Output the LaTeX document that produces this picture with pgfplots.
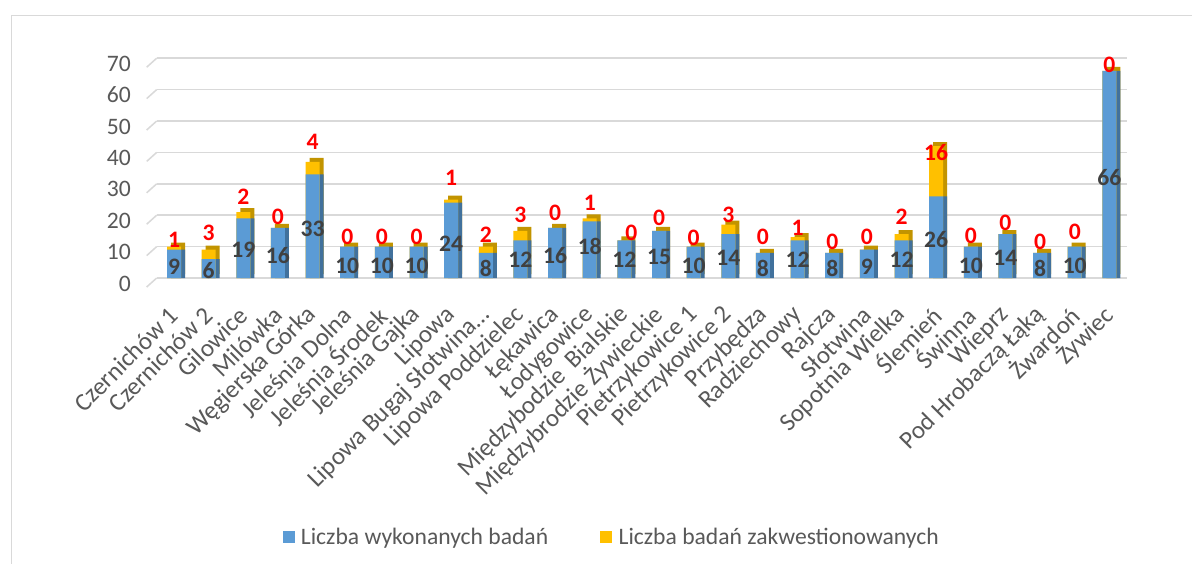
\documentclass[border=0pt]{standalone}
\usepackage{fontspec}
\setmainfont{Carlito}
\usepackage{pgfplots}
\usepackage{pgfplotstable}
\pgfplotsset{compat=1.18}
\definecolor{blueC}{HTML}{5B9BD5}
\definecolor{blueD}{HTML}{41719C}
\definecolor{yelC}{HTML}{FFC000}
\definecolor{yelD}{HTML}{C29400}
\definecolor{gridc}{HTML}{D9D9D9}
\definecolor{txt}{HTML}{595959}
\definecolor{dlab}{HTML}{404040}
\newcommand\fs{\fontsize{23.6pt}{28pt}\selectfont}
\newcommand\fx{\fontsize{25pt}{30pt}\selectfont}

\pgfplotstableread{
x blue yel tot dy rx ry
0 9 1 10 3.6 0 12.1
1 6 3 9 2.5 1 14.3
2 19 2 21 9.1 2 25.8
3 16 0 16 7.3 3 19.4
4 33 4 37 15.8 4 43.3
5 10 0 10 3.8 5 13.1
6 10 0 10 3.8 6 13.1
7 10 0 10 3.8 7 13.1
8 24 1 25 10.8 8 31.8
9 8 2 10 3.1 9 13.7
10 12 3 15 5.7 10 20.0
11 16 0 16 7.3 11 20.7
12 18 1 19 10.0 12 23.9
13 12 0 12 5.7 13.2 14.3
14 15 0 15 6.8 14 19.1
15 10 0 10 3.8 15 12.7
16 14 3 17 6.3 16 20.0
17 8 0 8 3.1 17 13.1
18 12 1 13 5.7 18 15.9
19 8 0 8 3.1 19 11.5
20 9 0 9 3.6 20 13.1
21 12 2 14 5.7 21 19.4
22 26 16 42 12.4 22 39.8
23 10 0 10 3.8 23 13.4
24 14 0 14 6.3 24 17.5
25 8 0 8 3.1 25 11.5
26 10 0 10 3.8 26 14.6
27 66 0 66 31.9 27 67.8
}\data

\begin{document}
\begin{tikzpicture}
\useasboundingbox (0,0) rectangle (1192pt,563pt);
\fill[white] (0,0) rectangle (1192pt,563pt);
\draw[gridc, line width=1.2pt] (11.7pt,-10pt) -- (11.7pt,547.3pt) -- (1210pt,547.3pt);
\begin{axis}[
  at={(156.7pt,285pt)}, anchor=south west,
  scale only axis, width=970pt, height=219.8pt,
  xmin=-0.5, xmax=27.5, ymin=0, ymax=70,
  axis line style={draw=none},
  major tick length=0pt,
  ytick={0,10,...,70},
  ymajorgrids, grid style={gridc, line width=1.5pt},
  xtick={0,...,27},
  xticklabels={Czernichów 1,Czernichów 2,Gilowice,Milówka,Węgierska Górka,Jeleśnia Dolna,Jeleśnia Środek,Jeleśnia Gajka,Lipowa,Lipowa Bugaj Słotwina…,Lipowa Poddzielec,Łękawica,Łodygowice,Międzybodzie\ \ Bialskie,Międzybrodzie Żywieckie,Pietrzykowice 1,Pietrzykowice 2,Przybędza,Radziechowy,Rajcza,Słotwina,Sopotnia Wielka,Ślemień,Świnna,Wieprz,Pod Hrobaczą Łąką,Żwardoń,Żywiec},
  xticklabel style={font=\fx, text=txt, inner sep=0pt, yshift=-33pt, xshift=0pt, rotate=45, anchor=east},
  yticklabel style={font=\fs, text=txt, inner sep=0pt, anchor=east, xshift=-25.7pt, yshift=-5.5pt},
  /pgf/number format/assume math mode=true,
  clip=false,
  legend columns=2,
  legend style={at={(0.469,-1.178)}, anchor=center, draw=none, fill=none, font=\fs, text=txt,
    /tikz/every even column/.append style={column sep=50pt}},
]
\pgfplotsinvokeforeach{0,10,20,30,40,50,60,70}{
  \draw[gridc, line width=1.5pt] (axis cs:-0.5,#1) -- ++(-10pt,-9pt);
}
% side/top faces
\addplot[ybar, bar width=14pt, bar shift=4pt, fill=yelD, draw=none, yshift=4pt, forget plot] table[x=x,y=tot] {\data};
\addplot[ybar, bar width=14pt, bar shift=4pt, fill=blueD, draw=none, forget plot] table[x=x,y=blue] {\data};
% front faces
\addplot[ybar, bar width=14pt, bar shift=0pt, fill=yelC, draw=none, forget plot] table[x=x,y=tot] {\data};
\addplot[ybar, bar width=14pt, bar shift=0pt, fill=blueC, draw=none, forget plot] table[x=x,y=blue] {\data};
% labels
\addplot[draw=none, mark=none, forget plot, nodes near coords, point meta=explicit symbolic,
  nodes near coords style={font=\fs\bfseries, text=dlab, anchor=center, inner sep=0pt}]
  table[x=x, y=dy, meta=blue] {\data};
\addplot[draw=none, mark=none, forget plot, nodes near coords, point meta=explicit symbolic,
  nodes near coords style={font=\fs\bfseries, text=red, anchor=center, inner sep=0pt}]
  table[x=rx, y=ry, meta=yel] {\data};
\addlegendimage{legend image code/.code={\fill[blueC] (0pt,-5.5pt) rectangle (11pt,5.5pt); \path (16pt,0pt);}}
\addlegendentry{Liczba wykonanych badań}
\addlegendimage{legend image code/.code={\fill[yelC] (0pt,-5.5pt) rectangle (11pt,5.5pt); \path (16pt,0pt);}}
\addlegendentry{Liczba badań zakwestionowanych}
\end{axis}
\end{tikzpicture}
\end{document}
